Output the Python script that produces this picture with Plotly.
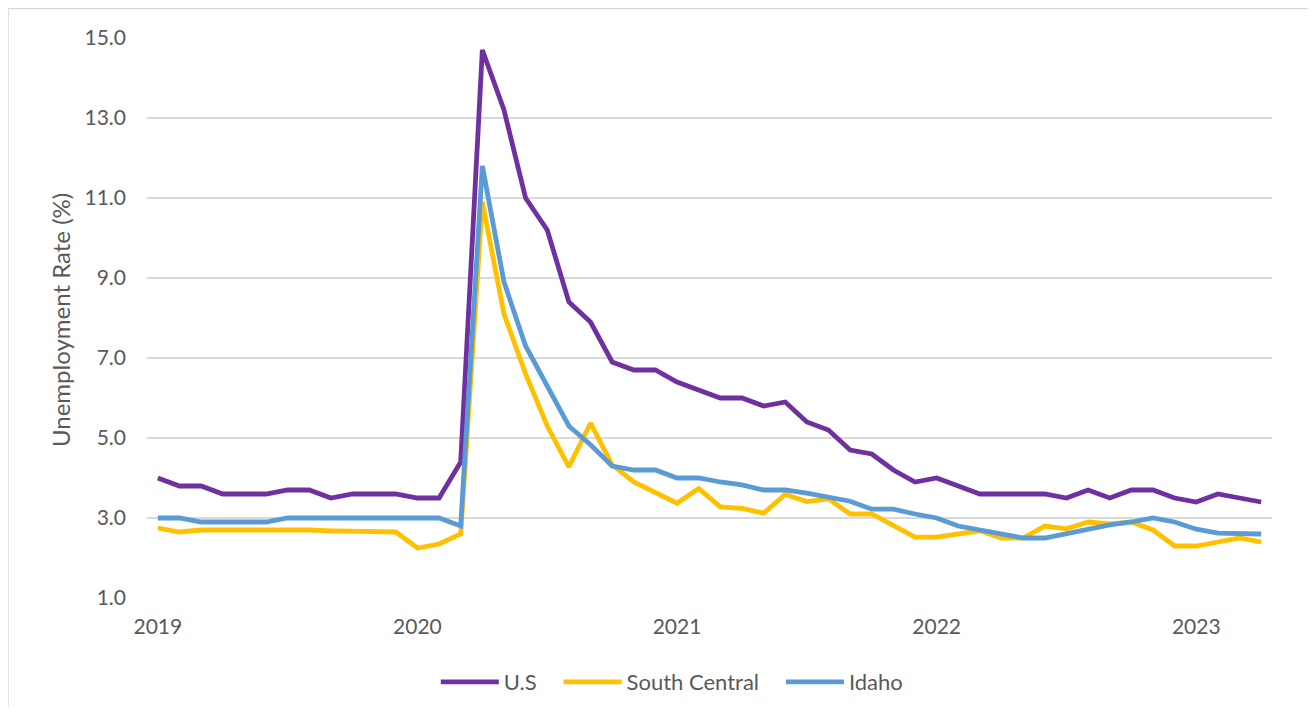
import plotly.graph_objects as go

# Monthly data, Jan 2019 .. Apr 2023
months = list(range(52))
year_ticks = [0, 12, 24, 36, 48]
year_labels = ["2019", "2020", "2021", "2022", "2023"]

us = [4.0, 3.8, 3.8, 3.6, 3.6, 3.6, 3.7, 3.7, 3.5, 3.6, 3.6, 3.6,
      3.5, 3.5, 4.4, 14.7, 13.2, 11.0, 10.2, 8.4, 7.9, 6.9, 6.7, 6.7,
      6.4, 6.2, 6.0, 6.0, 5.8, 5.9, 5.4, 5.2, 4.7, 4.6, 4.2, 3.9,
      4.0, 3.8, 3.6, 3.6, 3.6, 3.6, 3.5, 3.7, 3.5, 3.7, 3.7, 3.5,
      3.4, 3.6, 3.5, 3.4]

south_central = [2.75, 2.65, 2.7, 2.7, 2.72, 2.72, 2.7, 2.7, 2.68, 2.67, 2.69, 2.65,
                 2.25, 2.35, 2.6, 10.9, 8.1, 6.6, 5.3, 4.28, 5.37, 4.33, 3.9, 3.63,
                 3.37, 3.74, 3.28, 3.24, 3.12, 3.59, 3.41, 3.48, 3.1, 3.1, 2.8, 2.52,
                 2.52, 2.6, 2.68, 2.5, 2.5, 2.8, 2.73, 2.9, 2.85, 2.9, 2.7, 2.3,
                 2.3, 2.4, 2.5, 2.4]

idaho = [3.0, 3.0, 2.9, 2.9, 2.9, 2.9, 3.0, 3.0, 3.0, 3.0, 3.0, 3.0,
         3.0, 3.0, 2.8, 11.8, 8.9, 7.3, 6.3, 5.3, 4.83, 4.3, 4.2, 4.2,
         4.0, 4.0, 3.9, 3.83, 3.7, 3.7, 3.62, 3.53, 3.42, 3.22, 3.22, 3.1,
         3.0, 2.8, 2.7, 2.6, 2.5, 2.5, 2.62, 2.72, 2.83, 2.9, 3.0, 2.9,
         2.72, 2.62, 2.6, 2.6]

series_names = ["U.S", "South Central", "Idaho"]
series_values = [us, south_central, idaho]
series_colors = ["#7030A0", "#FFC000", "#5B9BD5"]

FONT = "Lato"
TXT = "#595959"
W, H = 1308, 699
L, T = 139, 30
PW, PH = 1125, 560

fig = go.Figure()
for name, vals, color in zip(series_names, series_values, series_colors):
    fig.add_trace(go.Scatter(x=months, y=vals, mode="lines",
                             name=name + "\u00a0" * 3,
                             line=dict(color=color, width=4.8)))

fig.update_layout(
    width=W, height=H,
    margin=dict(l=L, r=W - L - PW, t=T, b=H - T - PH),
    paper_bgcolor="white", plot_bgcolor="white",
    font=dict(family=FONT, color=TXT, size=21),
    showlegend=True,
    legend=dict(orientation="h", xref="container", yref="container",
                x=0.514, xanchor="center", y=1 - 674 / H, yanchor="middle",
                font=dict(family=FONT, size=22, color=TXT),
                itemwidth=58, tracegroupgap=0),
    xaxis=dict(range=[-0.5, 51.5], tickmode="array", tickvals=year_ticks,
               ticktext=year_labels, showgrid=False, zeroline=False,
               showline=False, ticks="", ticklabelstandoff=14,
               tickfont=dict(family=FONT, size=21, color=TXT)),
    yaxis=dict(range=[1, 15], tick0=1, dtick=2, tickformat=".1f",
               showgrid=True, gridcolor="#d9d9d9", gridwidth=1.5,
               zeroline=False, showline=False, ticks="",
               ticklabelstandoff=20,
               tickfont=dict(family=FONT, size=21, color=TXT)),
    annotations=[dict(text="Unemployment Rate (%)", xref="paper", yref="paper",
                      x=(52 - L) / PW, y=(PH + T - 312) / PH,
                      xanchor="center", yanchor="middle", textangle=-90,
                      showarrow=False,
                      font=dict(family=FONT, size=24, color=TXT))],
    shapes=[dict(type="rect", xref="paper", yref="paper",
                 x0=(0 - L) / PW, x1=(1305 - L) / PW,
                 y0=(PH + T - 720) / PH, y1=(PH + T - 0.5) / PH,
                 line=dict(color="#d9d9d9", width=1.5), layer="below")],
)

fig.write_html("out.html")
